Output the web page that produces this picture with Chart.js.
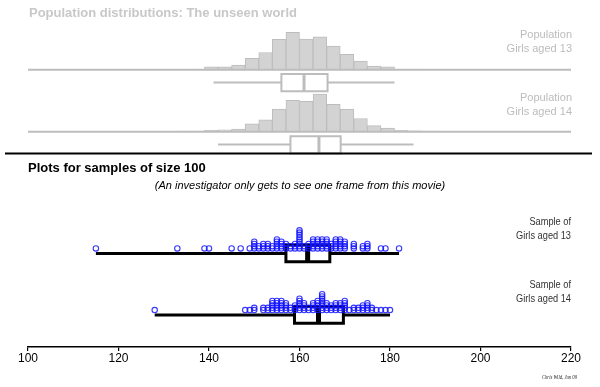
<!DOCTYPE html>
<html><head><meta charset="utf-8">
<script src="https://cdn.jsdelivr.net/npm/chart.js"></script>
<style>html,body{margin:0;padding:0;background:#fff;}#wrap{width:600px;height:387px;position:relative;}</style>
</head><body><div id="wrap"><canvas id="c" width="600" height="387"></canvas></div>
<script>
// ---------- DATA ----------
const xTicks = [100, 120, 140, 160, 180, 200, 220];
const binStarts = [127,130,133,136,139,142,145,148,151,154,157,160,163,166,169,172,175,178,181,184,187,190,193];
const binWidth = 3;
// population percentage per 3 cm bin
const pop13Pct = [0,0,0,0.1,1.3,1.3,2.1,5.0,7.5,13.2,16.2,13.3,14.3,10.3,6.7,3.8,1.6,1.3,0.2,0.1,0,0,0];
const pop14Pct = [0,0.2,0.3,0.3,0.55,0.85,1.15,3.4,5.1,9.8,13.5,13.1,16.2,11.8,9.8,5.7,2.6,1.6,0.6,0.4,0.3,0.1,0];
// five-number summaries: min, q1, median, q3, max
const pop13Box = [141, 156, 161, 166.2, 181];
const pop14Box = [142, 158, 164.3, 169.1, 185.2];
const sample13Box = [115, 157, 161.8, 166.7, 182];
const sample14Box = [128, 158.9, 164.2, 169.7, 180];
// samples of size 100 (heights, cm)
const sample13 = [115,133,139,140,145,147,149,150,150,150,150,151,151,152,152,152,153,153,153,154,154,
  155,155,155,155,155,156,156,156,156,157,157,157,158,158,159,159,159,
  160,160,160,160,160,160,160,160,160,161,161,162,162,162,163,163,163,163,163,
  164,164,164,164,164,165,165,165,165,165,166,166,166,166,166,167,167,167,
  168,168,168,168,168,169,169,169,169,169,170,170,170,170,172,172,172,174,174,175,175,175,178,179,182];
const sample14 = [128,148,149,150,150,152,152,153,153,154,154,154,154,154,155,155,155,155,155,
  156,156,156,156,156,157,157,157,157,158,158,159,159,159,160,160,160,160,160,160,
  161,161,161,161,162,162,163,163,163,163,164,164,164,164,164,165,165,165,165,165,165,165,165,
  166,166,166,166,167,167,167,168,168,168,168,169,169,169,169,170,170,170,170,170,171,
  172,172,173,173,174,174,174,175,175,175,175,176,176,177,178,179,180];

// ---------- LAYOUT / STYLE ----------
const FONT = "'Liberation Sans', Arial, sans-serif";
const pxPerPct = 2.35;
const dotStep = 2.3;
const popGrey = '#bdbdbd';
const pan = {
  pop13: {base: 65.7, boxTop: 70, boxBot: 87.5, mid: 78.5},
  pop14: {base: 128.5, boxTop: 133, boxBot: 150.5, mid: 141.5},
  s13: {dots: 247, boxTop: 243.5, boxBot: 260.5, mid: 252},
  s14: {dots: 309.5, boxTop: 306, boxBot: 323, mid: 314.5}
};

function histData(pcts, base) {
  return binStarts.map((b, i) => ({x: b + binWidth / 2, y: [base, base - pcts[i] * pxPerPct]}));
}
function stackPoints(values, baseY) {
  const seen = {};
  return values.map(v => { const k = seen[v] || 0; seen[v] = k + 1; return {x: v, y: baseY - k * dotStep}; });
}
function lineDs(data, color, width, cap, order) {
  return {type: 'line', data, borderColor: color, borderWidth: width, pointRadius: 0, fill: false,
    tension: 0, borderCapStyle: cap, borderJoinStyle: 'miter', order};
}
function boxDs(stats, p, color, boxW, medW, whW, order) {
  const [mn, q1, md, q3, mx] = stats;
  return [
    lineDs([{x:q1,y:p.boxTop},{x:q3,y:p.boxTop},{x:q3,y:p.boxBot},{x:q1,y:p.boxBot},{x:q1,y:p.boxTop}], color, boxW, 'square', order),
    lineDs([{x:md,y:p.boxTop},{x:md,y:p.boxBot}], color, medW, 'butt', order),
    lineDs([{x:mn,y:p.mid},{x:q1,y:p.mid}], color, whW, 'butt', order),
    lineDs([{x:q3,y:p.mid},{x:mx,y:p.mid}], color, whW, 'butt', order)
  ];
}
function barDs(pcts, base) {
  return {type: 'bar', data: histData(pcts, base), backgroundColor: '#d3d3d3', borderColor: popGrey,
    borderWidth: 1, borderSkipped: false, grouped: false, barPercentage: 1, categoryPercentage: 1, order: 5};
}
function dotDs(vals, base) {
  return {type: 'scatter', data: stackPoints(vals, base), pointStyle: 'circle', pointRadius: 2.7,
    pointBorderWidth: 1.1, pointBorderColor: 'rgba(20,20,255,0.85)', pointBackgroundColor: 'rgba(0,0,0,0)', order: 0};
}

const datasets = [
  barDs(pop13Pct, pan.pop13.base),
  barDs(pop14Pct, pan.pop14.base),
  lineDs([{x:100,y:pan.pop13.base},{x:220,y:pan.pop13.base}], popGrey, 2, 'butt', 4),
  lineDs([{x:100,y:pan.pop14.base},{x:220,y:pan.pop14.base}], popGrey, 2, 'butt', 4),
  ...boxDs(pop13Box, pan.pop13, popGrey, 2, 3, 2, 3),
  ...boxDs(pop14Box, pan.pop14, popGrey, 2, 3, 2, 3),
  ...boxDs(sample13Box, pan.s13, '#000', 3, 5, 3, 2),
  ...boxDs(sample14Box, pan.s14, '#000', 3, 5, 3, 2),
  dotDs(sample13, pan.s13.dots),
  dotDs(sample14, pan.s14.dots)
];

const texts = [
  {t: 'Population distributions: The unseen world', x: 29, y: 13, align: 'left', font: 'bold 13px ' + FONT, color: '#c8c8c8'},
  {t: 'Population', x: 572, y: 35, align: 'right', font: '11px ' + FONT, color: '#bcbcbc'},
  {t: 'Girls aged 13', x: 572, y: 49, align: 'right', font: '11px ' + FONT, color: '#bcbcbc'},
  {t: 'Population', x: 572, y: 98, align: 'right', font: '11px ' + FONT, color: '#bcbcbc'},
  {t: 'Girls aged 14', x: 572, y: 112, align: 'right', font: '11px ' + FONT, color: '#bcbcbc'},
  {t: 'Plots for samples of size 100', x: 28, y: 168, align: 'left', font: 'bold 13px ' + FONT, color: '#000'},
  {t: '(An investigator only gets to see one frame from this movie)', x: 300, y: 186, align: 'center', font: 'italic 11px ' + FONT, color: '#000'},
  {t: 'Sample of', x: 571, y: 222, align: 'right', font: '11px ' + FONT, color: '#333', sx: 0.84},
  {t: 'Girls aged 13', x: 571, y: 236, align: 'right', font: '11px ' + FONT, color: '#333', sx: 0.84},
  {t: 'Sample of', x: 571, y: 285, align: 'right', font: '11px ' + FONT, color: '#333', sx: 0.84},
  {t: 'Girls aged 14', x: 571, y: 299, align: 'right', font: '11px ' + FONT, color: '#333', sx: 0.84},
  {t: 'Chris Wild, Jun 09', x: 577, y: 377, align: 'right', font: 'italic 6.5px "Liberation Serif", serif', color: '#222', sx: 0.72}
];

const decor = {
  id: 'decor',
  afterDraw(chart) {
    const ctx = chart.ctx;
    ctx.save();
    ctx.strokeStyle = '#000';
    ctx.lineWidth = 2;
    ctx.beginPath(); ctx.moveTo(5, 153.5); ctx.lineTo(592, 153.5); ctx.stroke();
    ctx.textBaseline = 'middle';
    texts.forEach(o => {
      ctx.save();
      ctx.font = o.font; ctx.fillStyle = o.color; ctx.textAlign = o.align;
      ctx.translate(o.x, o.y);
      if (o.sx) ctx.scale(o.sx, 1);
      ctx.fillText(o.t, 0, 0);
      ctx.restore();
    });
    ctx.restore();
  }
};

new Chart(document.getElementById('c'), {
  type: 'scatter',
  data: {datasets},
  options: {
    responsive: false, animation: false, devicePixelRatio: 1,
    layout: {padding: {left: 28, right: 29, top: 0, bottom: 21.6}},
    plugins: {legend: {display: false}, tooltip: {enabled: false}},
    scales: {
      x: {type: 'linear', min: 100, max: 220, offset: false, position: 'bottom',
        afterBuildTicks: s => { s.ticks = xTicks.map(v => ({value: v})); },
        border: {display: true, color: '#000', width: 1.5},
        grid: {display: true, drawOnChartArea: false, drawTicks: true, tickLength: 4, color: '#000', lineWidth: 1.2, offset: false},
        ticks: {color: '#000', font: {family: FONT, size: 12}, padding: 0, maxRotation: 0, autoSkip: false}
      },
      y: {type: 'linear', min: 0, max: 347, reverse: true, display: false}
    }
  },
  plugins: [decor]
});
</script></body></html>
